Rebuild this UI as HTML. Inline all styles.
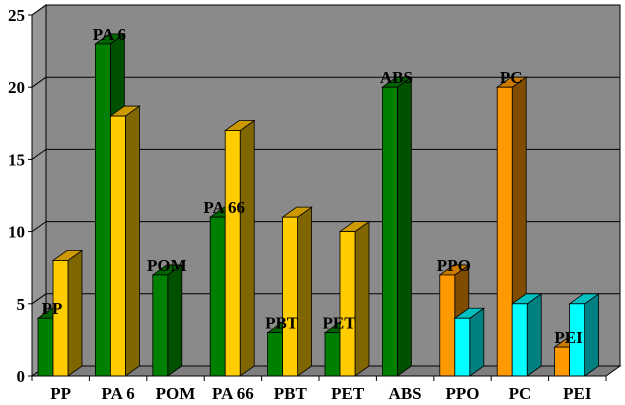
<!DOCTYPE html>
<html><head><meta charset="utf-8"><style>body{margin:0;background:#fff}svg{display:block}text{font-family:"Liberation Serif",serif;font-size:17px;font-weight:bold;fill:#000}</style></head><body>
<svg width="625" height="405" xmlns="http://www.w3.org/2000/svg" id="s">
<rect x="46" y="5" width="574" height="361" fill="#8a8a8a" stroke="#000"/>
<polygon points="32,15 46,5 46,366 32,376" fill="#979797" stroke="#000"/>
<polygon points="32,376 606,376 620,366 46,366" fill="#7e7e7e" stroke="#000"/>
<g id="grid" stroke="#000" stroke-width="1"></g>
<g id="bars" stroke="#000" stroke-width="0.8"></g>
<line x1="32" y1="15" x2="32" y2="376" stroke="#000"/>
<line x1="32" y1="376" x2="606" y2="376" stroke="#000"/>
<g id="lab"></g>
</svg>
<script>
var ns="http://www.w3.org/2000/svg";
function el(p,t,a,txt){var e=document.createElementNS(ns,t);for(var k in a)e.setAttribute(k,a[k]);if(txt!=null)e.textContent=txt;document.getElementById(p).appendChild(e);}
function Y(v){return 376-v*14.44;}
for(var v=0;v<=25;v+=5){var y=Y(v);
 if(v>0){el('grid','line',{x1:46,y1:y-10,x2:620,y2:y-10});el('grid','line',{x1:32,y1:y,x2:46,y2:y-10});}
 el('grid','line',{x1:28,y1:y,x2:32,y2:y});
 el('lab','text',{x:25,y:y+6,'text-anchor':'end'},String(v));}
var cats=["PP","PA 6","POM","PA 66","PBT","PET","ABS","PPO","PC","PEI"];
for(var i=0;i<=10;i++){var x=32+57.4*i;el('grid','line',{x1:x,y1:376,x2:x,y2:381});}
cats.forEach(function(c,i){el('lab','text',{x:32+57.4*(i+0.5),y:399,'text-anchor':'middle'},c);});
var C={g:["#008000","#005000","#006400"],y:["#ffcc00","#806600","#cc9900"],o:["#ff9900","#804c00","#cc7a00"],c:["#00ffff","#008080","#00c0c0"]};
var data=[[["g",4],["y",8]],[["g",23],["y",18]],[["g",7]],[["g",11],["y",17]],[["g",3],["y",11]],[["g",3],["y",10]],[["g",20]],[["o",7],["c",4]],[["o",20],["c",5]],[["o",2],["c",5]]];
data.forEach(function(g,i){var x0=38+57.4*i;
 g.forEach(function(b,j){var x=x0+15*j,t=Y(b[1]),c=C[b[0]];
  el('bars','polygon',{points:[x+15,t,x+29,t-10,x+29,366,x+15,376].join(' '),fill:c[1]});
  el('bars','polygon',{points:[x,t,x+14,t-10,x+29,t-10,x+15,t].join(' '),fill:c[2]});
  el('bars','rect',{x:x,y:t,width:15,height:376-t,fill:c[0]});
 });
 var t0=Y(g[0][1]);el('lab','text',{x:x0+14,y:t0-4,'text-anchor':'middle'},cats[i]);
});
</script>
</body></html>
